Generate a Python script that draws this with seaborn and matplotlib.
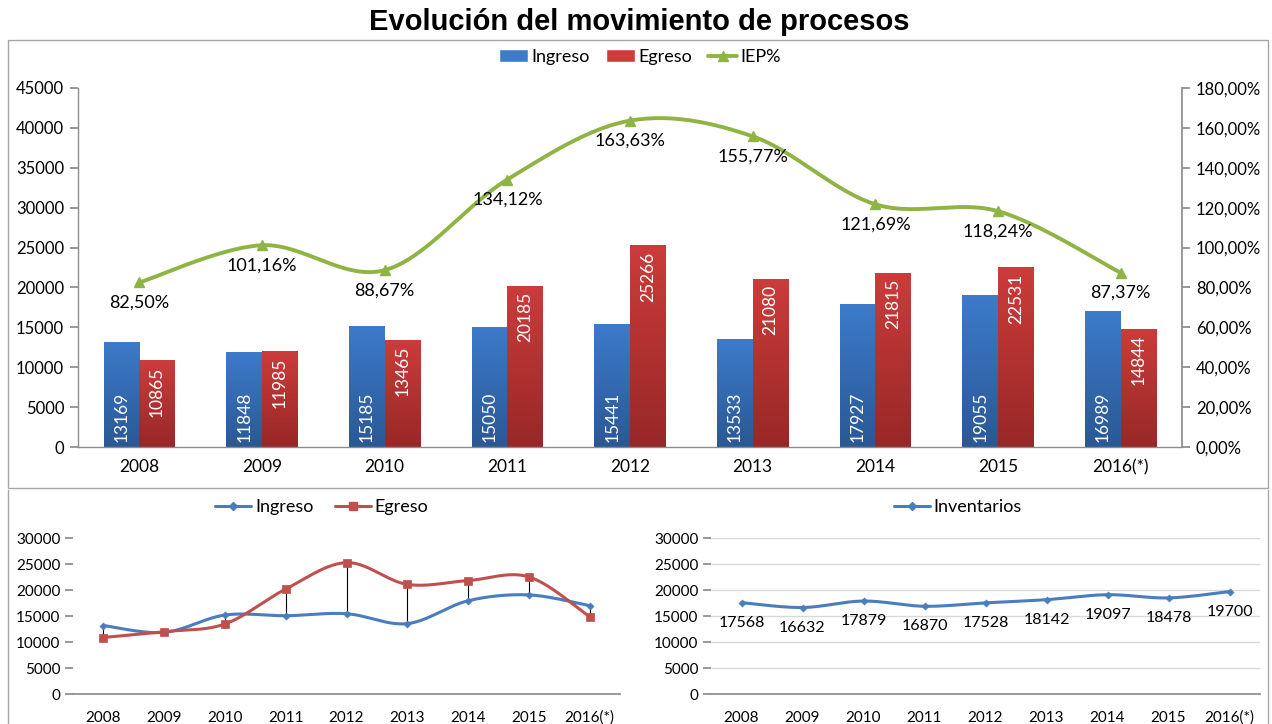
import numpy as np
import pandas as pd
import matplotlib
matplotlib.use("Agg")
import matplotlib.pyplot as plt
import seaborn as sns
from matplotlib.lines import Line2D
from matplotlib.patches import Patch, Rectangle
from matplotlib.colors import LinearSegmentedColormap

# datos
years = ["2008", "2009", "2010", "2011", "2012", "2013", "2014", "2015", "2016(*)"]
ingreso = [13169, 11848, 15185, 15050, 15441, 13533, 17927, 19055, 16989]
egreso = [10865, 11985, 13465, 20185, 25266, 21080, 21815, 22531, 14844]
iep = [82.50, 101.16, 88.67, 134.12, 163.63, 155.77, 121.69, 118.24, 87.37]
inventarios = [17568, 16632, 17879, 16870, 17528, 18142, 19097, 18478, 19700]

BLUE_TOP, BLUE_BOT = "#3d7bcb", "#2a5894"
RED_TOP, RED_BOT = "#cc3c3b", "#972827"
GREEN = "#8fb443"
LBLUE = "#4a7dbd"
LRED = "#c0504d"
GRAY = "#8c8c8c"

sns.set_theme(style="white")
plt.rcParams["font.family"] = ["Lato", "DejaVu Sans"]
plt.rcParams["text.color"] = "black"
plt.rcParams["xtick.color"] = "black"
plt.rcParams["ytick.color"] = "black"
plt.rcParams["axes.labelcolor"] = "black"


def smooth(xs, ys, n=30):
    # curva suavizada tipo Excel (bezier con puntos de control a 1/6)
    p = np.column_stack([np.asarray(xs, float), np.asarray(ys, float)])
    pts = np.vstack([p[0], p, p[-1]])
    t = np.linspace(0, 1, n)[:, None]
    out = []
    for i in range(1, len(pts) - 2):
        p0, p1, p2, p3 = pts[i - 1], pts[i], pts[i + 1], pts[i + 2]
        c1 = p1 + (p2 - p0) / 6
        c2 = p2 - (p3 - p1) / 6
        seg = ((1 - t) ** 3) * p1 + 3 * ((1 - t) ** 2) * t * c1 + 3 * (1 - t) * t ** 2 * c2 + t ** 3 * p2
        out.append(seg if i == 1 else seg[1:])
    out = np.vstack(out)
    return out[:, 0], out[:, 1]


def gradient_bars(ax, patches, top, bottom):
    cmap = LinearSegmentedColormap.from_list("g", [bottom, top])
    grad = np.linspace(0, 1, 256).reshape(-1, 1)
    for p in patches:
        x, y, w, h = p.get_x(), p.get_y(), p.get_width(), p.get_height()
        im = ax.imshow(grad, cmap=cmap, extent=[x, x + w, y, y + h], origin="lower",
                       aspect="auto", zorder=2, interpolation="bilinear")
        im.set_clip_path(p)
        p.set_facecolor("none")
        p.set_edgecolor("none")


def cat_ticks(ax, n, labelsize):
    ax.set_xticks(range(n))
    ax.set_xticklabels(years)
    ax.set_xticks(np.arange(-0.5, n, 1), minor=True)
    ax.tick_params(axis="x", which="major", length=0, labelsize=labelsize, pad=9, labelcolor="black")
    ax.tick_params(axis="x", which="minor", length=7, color=GRAY, width=1, direction="out")
    ax.set_xlim(-0.5, n - 0.5)


fig = plt.figure(figsize=(12.72, 7.24), dpi=100)
W, H = 1272, 724

# marcos
fig.patches.append(Rectangle((8 / W, 1 - 488 / H), 1260 / W, 448 / H, transform=fig.transFigure,
                             fill=False, edgecolor="#a6a6a6", lw=1))
fig.add_artist(Line2D([8 / W, 8 / W], [0, 1 - 490 / H], color="#a6a6a6", lw=1))
fig.add_artist(Line2D([1268 / W, 1268 / W], [0, 1 - 490 / H], color="#a6a6a6", lw=1))

fig.text(639 / W, 1 - 22 / H, "Evolución del movimiento de procesos", ha="center", va="center",
         fontsize=21, fontweight="bold", family="Liberation Sans", color="black")

# ---------- grafico principal ----------
ax = fig.add_axes([78 / W, 1 - 447 / H, 1104 / W, 359 / H])
n = len(years)
df = pd.DataFrame({
    "year": years * 2,
    "value": ingreso + egreso,
    "serie": ["Ingreso"] * n + ["Egreso"] * n,
})
sns.barplot(data=df, x="year", y="value", hue="serie", palette={"Ingreso": BLUE_TOP, "Egreso": RED_TOP},
            width=0.58, saturation=1, legend=False, ax=ax)
gradient_bars(ax, ax.containers[0], BLUE_TOP, BLUE_BOT)
gradient_bars(ax, ax.containers[1], RED_TOP, RED_BOT)

for p, v in zip(ax.containers[0], ingreso):
    ax.annotate(str(v), (p.get_x() + p.get_width() / 2, 0), xytext=(0, 5), textcoords="offset pixels",
                rotation=90, ha="center", va="bottom", color="white", fontsize=12.5, zorder=5)
for p, v in zip(ax.containers[1], egreso):
    ax.annotate(str(v), (p.get_x() + p.get_width() / 2, v), xytext=(0, -6), textcoords="offset pixels",
                rotation=90, ha="center", va="top", color="white", fontsize=12.5, zorder=5)

ax.set_ylim(0, 45000)
ax.set_yticks(range(0, 45001, 5000))
ax.tick_params(axis="y", length=6, color=GRAY, labelsize=12, pad=4, direction="out", left=True,
               labelcolor="black")
cat_ticks(ax, n, 12.5)
ax.set_xlabel("")
ax.set_ylabel("")
for s in ["top", "right"]:
    ax.spines[s].set_visible(False)
for s in ["left", "bottom"]:
    ax.spines[s].set_color(GRAY)
    ax.spines[s].set_linewidth(1)

ax2 = ax.twinx()
sx, sy = smooth(range(n), iep)
ax2.plot(sx, sy, color=GREEN, lw=2.8, solid_capstyle="round", zorder=3)
ax2.plot(range(n), iep, ls="none", marker="^", ms=7, color=GREEN, zorder=4)
for i, v in enumerate(iep):
    ax2.annotate(f"{v:.2f}%".replace(".", ","), (i, v), xytext=(0, -20), textcoords="offset pixels",
                 ha="center", va="center", fontsize=13, color="black")
ax2.set_ylim(0, 180)
ax2.set_yticks(range(0, 181, 20))
ax2.set_yticklabels([f"{v:.2f}%".replace(".", ",") for v in range(0, 181, 20)])
ax2.tick_params(axis="y", length=6, color=GRAY, labelsize=12, pad=4, direction="out", right=True,
                labelcolor="black")
ax2.grid(False)
ax.grid(False)
for s in ["top", "left", "bottom"]:
    ax2.spines[s].set_visible(False)
ax2.spines["right"].set_color(GRAY)
ax2.set_xlim(-0.5, n - 0.5)

handles = [Patch(facecolor=BLUE_TOP), Patch(facecolor=RED_TOP),
           Line2D([0], [0], color=GREEN, lw=2.8, marker="^", ms=7)]
fig.legend(handles, ["Ingreso", "Egreso", "IEP%"], loc="center", bbox_to_anchor=(640 / W, 1 - 57 / H),
           ncol=3, frameon=False, fontsize=13, handlelength=1.6, handleheight=0.7,
           handletextpad=0.2, columnspacing=0.9)

# ---------- ingreso vs egreso ----------
axl = fig.add_axes([73 / W, 1 - 694 / H, 547 / W, 156 / H])
ix, iy = smooth(range(n), ingreso)
ex, ey = smooth(range(n), egreso)
axl.vlines(range(n), np.minimum(ingreso, egreso), np.maximum(ingreso, egreso), color="black", lw=0.8, zorder=1)
axl.plot(ix, iy, color=LBLUE, lw=2.2, zorder=2)
axl.plot(ex, ey, color=LRED, lw=2.2, zorder=3)
sns.scatterplot(x=list(range(n)), y=ingreso, marker="D", s=14, color=LBLUE, edgecolor=LBLUE, ax=axl, zorder=4)
sns.scatterplot(x=list(range(n)), y=egreso, marker="s", s=40, color=LRED, edgecolor=LRED, ax=axl, zorder=5)
axl.set_ylim(0, 30000)
axl.set_yticks(range(0, 30001, 5000))
axl.tick_params(axis="y", length=6, color=GRAY, labelsize=11, pad=3, left=True, labelcolor="black")
cat_ticks(axl, n, 11)
axl.tick_params(axis="x", which="major", pad=12)
for s in ["top", "right", "left"]:
    axl.spines[s].set_visible(False)
axl.spines["bottom"].set_color(GRAY)
lh = [Line2D([0], [0], color=LBLUE, lw=2.2, marker="D", ms=4),
      Line2D([0], [0], color=LRED, lw=2.2, marker="s", ms=6)]
fig.legend(lh, ["Ingreso", "Egreso"], loc="center", bbox_to_anchor=(322 / W, 1 - 507 / H), ncol=2,
           frameon=False, fontsize=13, handlelength=2.0, handletextpad=0.2, columnspacing=1.2)

# ---------- inventarios ----------
axr = fig.add_axes([711 / W, 1 - 694 / H, 549 / W, 156 / H])
vx, vy = smooth(range(n), inventarios)
axr.plot(vx, vy, color=LBLUE, lw=2.2, zorder=3)
sns.scatterplot(x=list(range(n)), y=inventarios, marker="D", s=14, color=LBLUE, edgecolor=LBLUE, ax=axr, zorder=4)
for i, v in enumerate(inventarios):
    axr.annotate(str(v), (i, v), xytext=(0, -20), textcoords="offset pixels",
                 ha="center", va="center", fontsize=11.5, color="black")
axr.set_ylim(0, 30000)
axr.set_yticks(range(0, 30001, 5000))
axr.yaxis.grid(True, color="#d9d9d9", lw=1)
axr.set_axisbelow(True)
axr.tick_params(axis="y", length=6, color=GRAY, labelsize=11, pad=3, left=True, labelcolor="black")
cat_ticks(axr, n, 11)
axr.tick_params(axis="x", which="major", pad=12)
for s in ["top", "right", "left"]:
    axr.spines[s].set_visible(False)
axr.spines["bottom"].set_color(GRAY)
fig.legend([Line2D([0], [0], color=LBLUE, lw=2.2, marker="D", ms=4)], ["Inventarios"], loc="center",
           bbox_to_anchor=(958 / W, 1 - 507 / H), frameon=False, fontsize=13, handlelength=2.0,
           handletextpad=0.2)

fig.savefig("out.png", dpi=100)
